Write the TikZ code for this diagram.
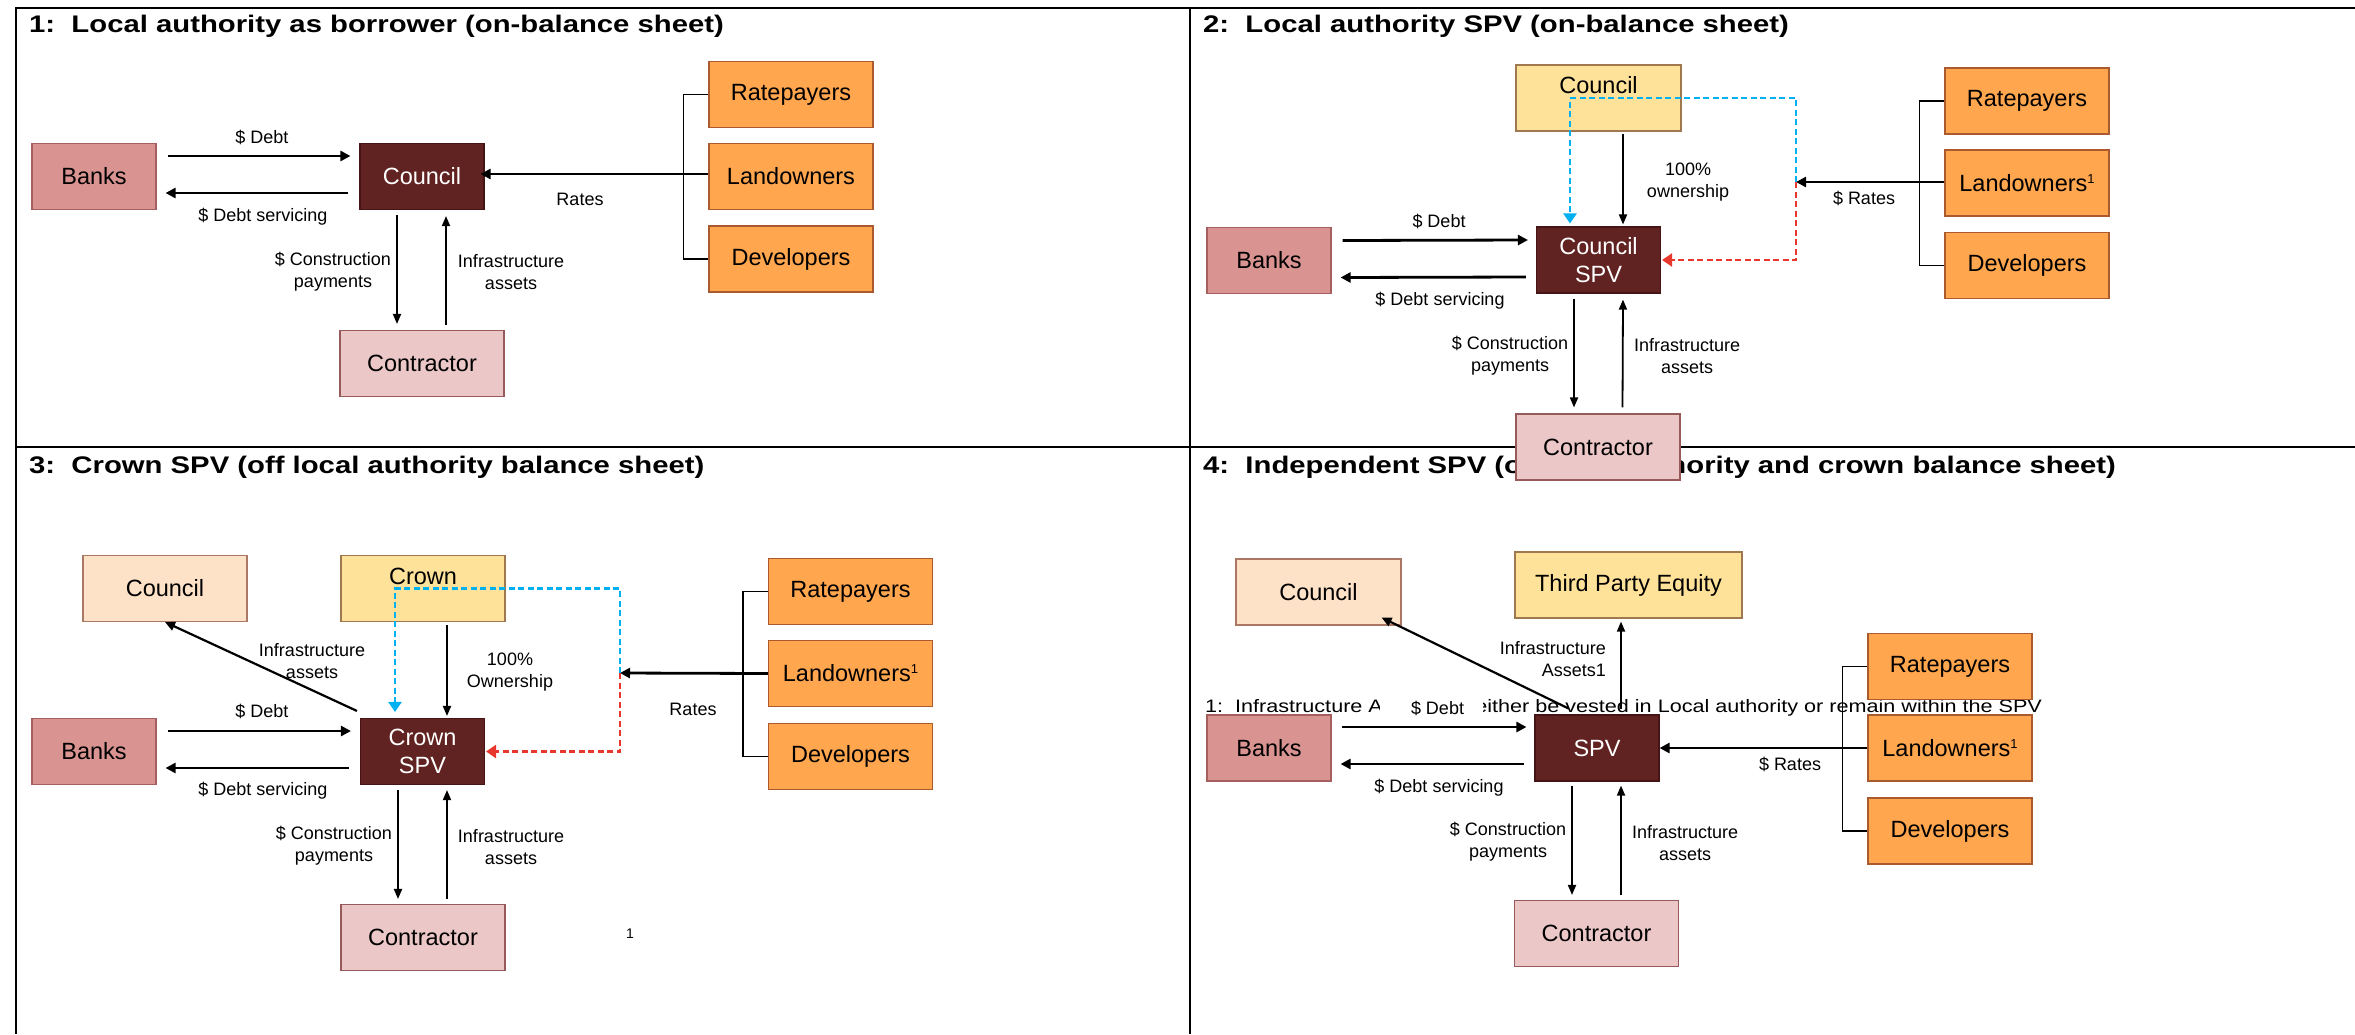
\documentclass[tikz,border=0pt]{standalone}
\usepackage{fontspec}
\setmainfont{Liberation Sans}
\usetikzlibrary{arrows.meta,calc}
\definecolor{banksfill}{RGB}{217,148,146}
\definecolor{banksline}{RGB}{165,95,95}
\definecolor{spvfill}{RGB}{97,35,33}
\definecolor{spvline}{RGB}{70,20,20}
\definecolor{contrfill}{RGB}{236,199,199}
\definecolor{contrline}{RGB}{150,90,90}
\definecolor{orangefill}{RGB}{255,166,79}
\definecolor{orangeline}{RGB}{170,90,45}
\definecolor{yellowfill}{RGB}{255,226,154}
\definecolor{yellowline}{RGB}{160,120,80}
\definecolor{peachfill}{RGB}{254,226,200}
\definecolor{peachline}{RGB}{170,120,100}
\definecolor{dashblue}{RGB}{0,176,240}
\definecolor{dashred}{RGB}{232,56,45}
\newcommand\paneltitle[1]{\scalebox{1.22}[1]{\fontsize{24}{28}\selectfont\bfseries #1}}
\newcommand\supone{\raisebox{8pt}{\fontsize{13}{13}\selectfont 1}}
\begin{document}
\begin{tikzpicture}[x=1pt,y=-1pt,
  nbox/.style={draw, line width=1.1pt, minimum height=66pt, inner sep=0pt, align=center, font=\fontsize{23.5}{28}\selectfont},
  banksbox/.style={nbox, fill=banksfill, draw=banksline, minimum width=124pt},
  spvbox/.style={nbox, fill=spvfill, draw=spvline, text=white, minimum width=124pt},
  contrbox/.style={nbox, fill=contrfill, draw=contrline, minimum width=164pt},
  orangebox/.style={nbox, fill=orangefill, draw=orangeline, minimum width=164pt},
  yellowbox/.style={nbox, fill=yellowfill, draw=yellowline, minimum width=165pt},
  peachbox/.style={nbox, fill=peachfill, draw=peachline, minimum width=165pt},
  lbl/.style={align=center, inner sep=0pt, font=\fontsize{18}{22}\selectfont},
  frameline/.style={line width=2.5pt},
  thickarr/.style={line width=2.8pt, -{Triangle[length=10pt,width=10pt]}},
  thinarr/.style={line width=1.8pt, -{Triangle[length=10pt,width=8pt]}},
  diagarr/.style={line width=2.2pt, -{Triangle[length=10pt,width=9pt]}},
  bracket/.style={line width=1.6pt},
  bluedash/.style={dashblue, line width=2.3pt, dash pattern=on 6pt off 3.5pt, -{Triangle[length=10pt,width=13pt]}},
  reddash/.style={dashred, line width=2.3pt, dash pattern=on 6pt off 3.5pt, -{Triangle[length=10pt,width=13pt]}},
  ttl/.style={anchor=base west, inner sep=0pt}
]
\useasboundingbox[fill=white] (0,0) rectangle (2355,1034);

% frame
\draw[frameline] (16,1034) -- (16,8) -- (2355,8);
\draw[frameline] (1190,8) -- (1190,1034);
\draw[frameline] (16,447) -- (2355,447);

% titles
\node[ttl] (title1) at (29,32) {\paneltitle{1:\ \ Local authority as borrower (on-balance sheet)}};
\node[ttl] (title2) at (1203,32) {\paneltitle{2:\ \ Local authority SPV (on-balance sheet)}};
\node[ttl] (title3) at (29,473) {\paneltitle{3:\ \ Crown SPV (off local authority balance sheet)}};
\node[ttl] (title4) at (1203,473) {\paneltitle{4:\ \ Independent SPV (off local authority and crown balance sheet)}};

% footnote (panel 4)
\node[anchor=base west, inner sep=0pt, font=\fontsize{18}{22}\selectfont] (fn) at (1205,712) {\scalebox{1.2}[1]{1:\ \ Infrastructure Assets will either be vested in Local authority or remain within the SPV}};
\node[lbl, fill=white, minimum width=103pt, inner ysep=3pt] (t4debt) at (1431.5,708) {\hspace*{12pt}\$ Debt};

% ---------- Panel 1 ----------
\node[banksbox] (b1) at (94,176.5) {Banks};
\node[spvbox] (s1) at (422,176.5) {Council};
\node[contrbox] (c1) at (422,363.5) {Contractor};
\node[orangebox] (r1) at (791,94.5) {Ratepayers};
\node[orangebox] (l1) at (791,176.5) {Landowners};
\node[orangebox] (d1) at (791,259) {Developers};

\draw[thickarr] ($(b1.east)+(11,-20.5)$) -- ($(s1.west)+(-9,-20.5)$);
\draw[thickarr] ($(s1.west)+(-11,16.5)$) -- ($(b1.east)+(9,16.5)$);
\draw[bracket] (r1.west) -- ++(-25,0) |- (d1.west);
\draw[thickarr] ($(l1.west)+(0,-2.5)$) -- ($(s1.east)+(-4,-2.5)$);
\draw[thinarr] ($(s1.south)+(-25,5)$) -- ($(c1.north)+(-25,-6)$);
\draw[thinarr] ($(c1.north)+(24,-5)$) -- ($(s1.south)+(24,6)$);

\node[lbl] (t1debt) at (262,137) {\$ Debt};
\node[lbl] (t1serv) at (263,217) {\$ Debt servicing};
\node[lbl] (t1rates) at (580,199) {Rates};
\node[lbl] (t1cons) at (333,272) {\$ Construction\\payments};
\node[lbl] (t1infra) at (511,272) {Infrastructure\\assets};

% ---------- Panel 2 ----------
\node[yellowbox] (u2) at (1598.5,98) {\raisebox{13pt}[\height][\depth]{Council}};
\node[spvbox] (s2) at (1598.5,260) {Council\\SPV};
\node[banksbox] (b2) at (1269,260.5) {Banks};
\node[orangebox] (r2) at (2027,101) {Ratepayers};
\node[orangebox] (l2) at (2027,183) {Landowners\supone};
\node[orangebox] (d2) at (2027,265.5) {Developers};
\coordinate (j2) at (1796,182);

\draw[thickarr] ($(b2.east)+(11,-20)$) -- ($(s2.west)+(-8,-20)$);
\draw[thickarr] ($(s2.west)+(-10,17)$) -- ($(b2.east)+(9,17)$);
\draw[thinarr] ($(u2.south)+(24.5,2)$) -- ($(s2.north)+(24.5,-2)$);
\draw[bracket] (r2.west) -- ++(-25,0) |- (d2.west);
\draw[thickarr] ($(l2.west)+(0,-1)$) -- (j2);
\draw[bluedash] (j2) |- ($(u2.center)+(-28.5,0)$) -- ($(s2.north)+(-28.5,-3)$);
\draw[reddash] (j2) |- ($(s2.east)+(1,0)$);

\node[lbl] (t2debt) at (1439,221) {\$ Debt};
\node[lbl] (t2serv) at (1440,301) {\$ Debt servicing};
\node[lbl] (t2rates) at (1864,198) {\$ Rates};
\node[lbl] (t2own) at (1688,182) {100\%\\ownership};
\node[lbl] (t2cons) at (1510,356) {\$ Construction\\payments};
\node[lbl] (t2infra) at (1687,356) {Infrastructure\\assets};

% ---------- Panel 3 ----------
\node[peachbox, minimum width=164pt] (p3) at (165,588.5) {Council};
\node[yellowbox, minimum width=164pt] (u3) at (423,588.5) {\raisebox{12.5pt}[\height][\depth]{Crown}};
\node[spvbox] (s3) at (422.5,751.5) {Crown\\SPV};
\node[banksbox] (b3) at (94,751.5) {Banks};
\node[contrbox] (c3) at (423,937.5) {Contractor};
\node[orangebox] (r3) at (850.5,591.5) {Ratepayers};
\node[orangebox] (l3) at (850.5,673.5) {Landowners\supone};
\node[orangebox] (d3) at (850.5,756.5) {Developers};
\coordinate (j3) at (620,673);

\draw[thickarr] ($(b3.east)+(11,-20.5)$) -- ($(s3.west)+(-9,-20.5)$);
\draw[thickarr] ($(s3.west)+(-11,16.5)$) -- ($(b3.east)+(9,16.5)$);
\draw[thinarr] ($(u3.south)+(24,3)$) -- ($(s3.north)+(24.5,-2)$);
\draw[thinarr] ($(s3.south)+(-24.5,5)$) -- ($(c3.north)+(-25,-5)$);
\draw[thinarr] ($(c3.north)+(24,-5)$) -- ($(s3.south)+(24.5,5)$);
\draw[diagarr] ($(s3.north west)+(-3,-7)$) -- (p3.south);
\draw[bracket] (r3.west) -- ++(-25,0) |- (d3.west);
\draw[thickarr] (l3.west) -- (j3);
\draw[bluedash] (j3) |- ($(u3.center)+(-28,0)$) -- ($(u3.center |- s3.north)+(-28,-6)$);
\draw[reddash] (j3) |- ($(s3.east)+(1,0)$);

\node[lbl] (t3infd) at (312,661) {Infrastructure\\assets};
\node[lbl] (t3debt) at (262,711) {\$ Debt};
\node[lbl] (t3serv) at (263,791) {\$ Debt servicing};
\node[lbl] (t3rates) at (693,709) {Rates};
\node[lbl] (t3own) at (510,672) {100\%\\Ownership};
\node[lbl] (t3cons) at (334,846) {\$ Construction\\payments};
\node[lbl] (t3infra) at (511,847) {Infrastructure\\assets};
\node[lbl, font=\fontsize{14}{16}\selectfont] (t3one) at (630,934) {1};

% ---------- Panel 4 ----------
\node[peachbox] (p4) at (1318.5,592) {Council};
\node[yellowbox, minimum width=227pt] (u4) at (1628.5,585) {Third Party Equity};
\node[spvbox] (s4) at (1597,748) {SPV};
\node[banksbox] (b4) at (1269,748) {Banks};
\node[contrbox] (c4) at (1596.5,933.5) {Contractor};
\node[orangebox] (r4) at (1950,666.5) {Ratepayers};
\node[orangebox] (l4) at (1950,748) {Landowners\supone};
\node[orangebox] (d4) at (1950,831) {Developers};

\draw[thickarr] ($(b4.east)+(10,-21)$) -- ($(s4.west)+(-8,-21)$);
\draw[thickarr] ($(s4.west)+(-10,16)$) -- ($(b4.east)+(9,16)$);
\draw[thinarr] ($(s4.north)+(24,-5)$) -- ($(s4.north |- u4.south)+(24,3)$);
\draw[diagarr] ($(s4.north west)+(34,-6)$) -- ($(p4.south east)+(-20,-8)$);
\draw[thinarr] ($(s4.south)+(-25,4)$) -- ($(c4.north)+(-24.5,-5)$);
\draw[thinarr] ($(c4.north)+(24.5,-5)$) -- ($(s4.south)+(24,4)$);
\draw[bracket] (r4.west) -- ++(-25,0) |- (d4.west);
\draw[thickarr] (l4.west) -- (s4.east);

\node[lbl, anchor=east, align=right] (t4ia) at (1606,659) {Infrastructure\\Assets1};
\node[lbl] (t4serv) at (1439,788) {\$ Debt servicing};
\node[lbl] (t4rates) at (1790,764) {\$ Rates};
\node[lbl] (t4cons) at (1508,842) {\$ Construction\\payments};
\node[lbl] (t4infra) at (1685,843) {Infrastructure\\assets};

% contractor of panel 2 drawn last: it overlaps the frame and title 4
\node[contrbox] (c2) at (1598,447) {Contractor};
\draw[thinarr] ($(s2.south)+(-24.5,5)$) -- ($(c2.north)+(-24,-6)$);
\draw[thinarr] ($(c2.north)+(24.5,-6)$) -- ($(s2.south)+(24.5,6)$);
\end{tikzpicture}
\end{document}
